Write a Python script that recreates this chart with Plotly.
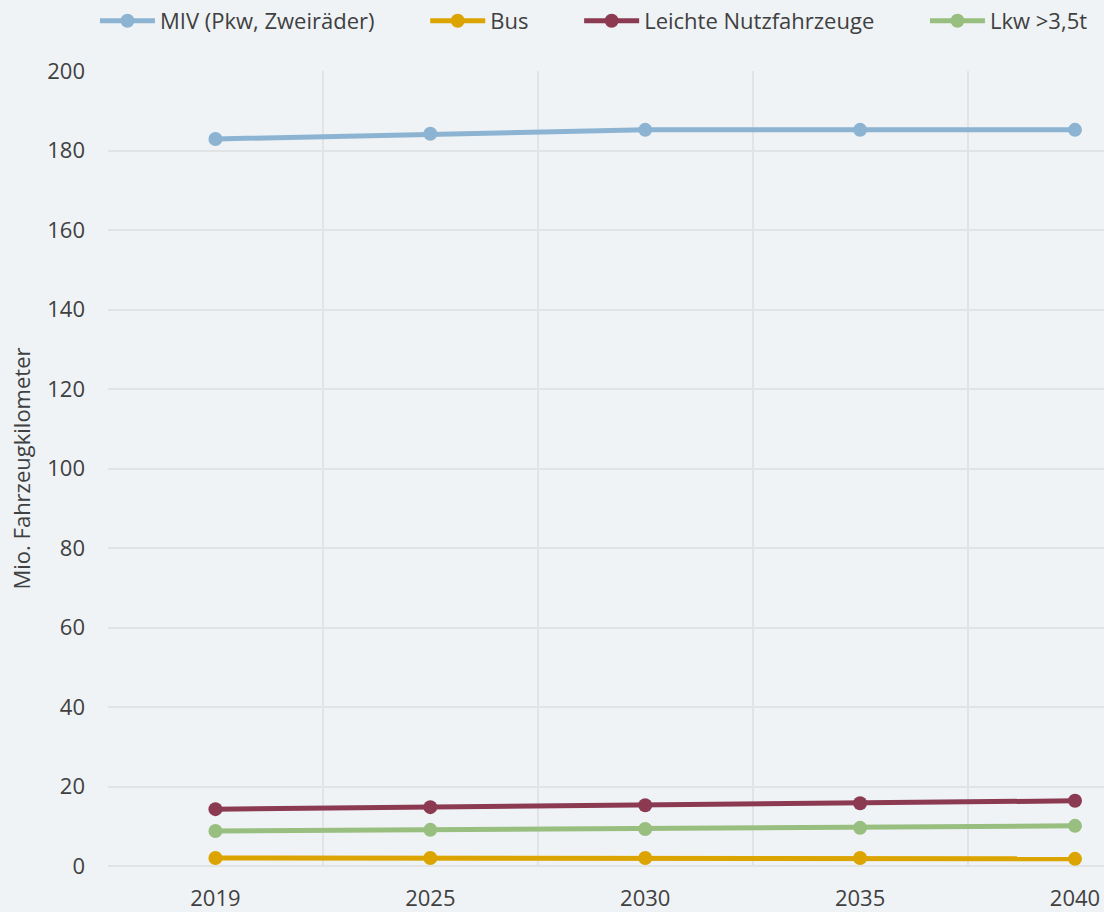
import plotly.graph_objects as go

years = ["2019", "2025", "2030", "2035", "2040"]
miv = [182.9, 184.2, 185.2, 185.2, 185.2]
bus = [2.0, 2.0, 2.0, 2.0, 1.8]
lnf = [14.3, 14.8, 15.3, 15.8, 16.4]
lkw = [8.8, 9.1, 9.3, 9.6, 10.1]

series = [
    ("MIV (Pkw, Zweiräder)", miv, "#8cb4d2"),
    ("Bus", bus, "#dba400"),
    ("Leichte Nutzfahrzeuge", lnf, "#8b3a52"),
    ("Lkw >3,5t", lkw, "#98bf7f"),
]

font_fam = "Open Sans, Noto Sans, sans-serif"
text_col = "#404040"
grid_col = "#e2e3e5"
bg = "#eff3f6"
pad = "\u00a0" * 8  # extra room between legend entries

fig = go.Figure()
for i, (name, vals, col) in enumerate(series):
    label = name if i == len(series) - 1 else name + pad
    fig.add_trace(go.Scatter(
        x=years, y=vals, name=label,
        mode="lines+markers",
        line=dict(color=col, width=5),
        marker=dict(color=col, size=14),
    ))

fig.update_layout(
    width=1104, height=912,
    paper_bgcolor=bg, plot_bgcolor=bg,
    margin=dict(l=108, r=0, t=71, b=46),
    font=dict(family=font_fam, size=22, color=text_col),
    showlegend=True,
    legend=dict(
        orientation="h", x=0.086, xanchor="left", xref="container",
        y=1.0, yanchor="top", yref="container", itemwidth=55,
        font=dict(size=22, color=text_col),
        bgcolor="rgba(0,0,0,0)",
    ),
    xaxis=dict(
        type="category", range=[-0.5, 4.135], tickson="boundaries",
        showgrid=True, gridcolor=grid_col, gridwidth=2, automargin=False,
        showline=False, zeroline=False, ticks="", ticklabelstandoff=17,
        tickfont=dict(size=22, color=text_col),
    ),
    yaxis=dict(
        range=[0, 200], dtick=20, showgrid=True, gridcolor=grid_col, gridwidth=2,
        zeroline=True, zerolinecolor=grid_col, zerolinewidth=2,
        showline=False, ticks="", ticklabelstandoff=22,
        title=dict(text="Mio. Fahrzeugkilometer", font=dict(size=22, color=text_col), standoff=10),
        tickfont=dict(size=22, color=text_col),
    ),
)

fig.write_html("out.html", config={"displayModeBar": False})

# drop the default page margin so the figure sits at the top-left corner
with open("out.html", encoding="utf-8") as f:
    html = f.read()
html = html.replace("<body>", '<body style="margin:0;overflow:hidden">', 1)
with open("out.html", "w", encoding="utf-8") as f:
    f.write(html)
